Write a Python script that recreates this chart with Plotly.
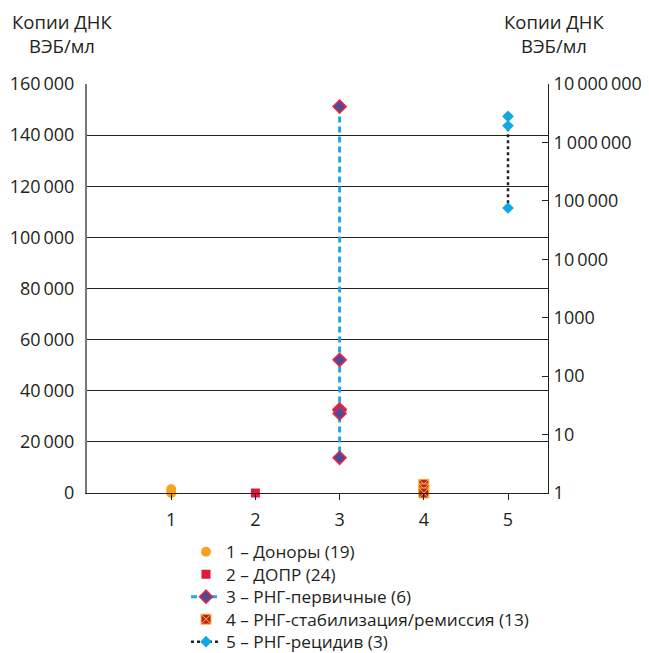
import plotly.graph_objects as go

# ---- data ----
g1_x = [1, 1]
g1_y = [1500, 0]              # left (linear) axis, near zero
g2_x = [2]
g2_y = [0]
g4_x = [4, 4, 4]
g4_y = [3400, 1600, 0]
g3_x = [3, 3, 3, 3, 3, 3]
g3_y = [4100000, 190, 27, 26, 23, 4]   # right (log) axis
g5_x = [5, 5, 5]
g5_y = [2800000, 1930000, 75500]

left_vals = [0, 20000, 40000, 60000, 80000, 100000, 120000, 140000, 160000]
left_text = ["0", "20\u2009000", "40\u2009000", "60\u2009000", "80\u2009000",
             "100\u2009000", "120\u2009000", "140\u2009000", "160\u2009000"]
right_vals = [1, 10, 100, 1000, 10000, 100000, 1000000, 10000000]
right_text = ["1", "10", "100", "1000", "10\u2009000", "100\u2009000",
              "1\u2009000\u2009000", "10\u2009000\u2009000"]
x_ticks = [1, 2, 3, 4, 5]
names = ["1 – Доноры (19)", "2 – ДОПР (24)", "3 – РНГ-первичные (6)",
         "4 – РНГ-стабилизация/ремиссия (13)", "5 – РНГ-рецидив (3)"]
title_lines = ["Копии ДНК", "ВЭБ/мл"]

FONT = "Open Sans"
TXT = "#231f20"
OFF = 8                 # page body margin
W, H = 649 - OFF, 653 - OFF
PL, PR, PT, PB = 87, 548, 84, 493   # plot area in page pixels

legend_ids = ["legend", "legend2", "legend3", "legend4", "legend5"]

fig = go.Figure()
fig.add_trace(go.Scatter(x=g1_x, y=g1_y, mode="markers", name=names[0], legend=legend_ids[0],
                         marker=dict(symbol="circle", size=10, color="#f7a21b"),
                         cliponaxis=False))
fig.add_trace(go.Scatter(x=g2_x, y=g2_y, mode="markers", name=names[1], legend=legend_ids[1],
                         marker=dict(symbol="square", size=9, color="#e2173a"),
                         cliponaxis=False))
fig.add_trace(go.Scatter(x=g3_x, y=g3_y, mode="lines+markers", name=names[2], yaxis="y2",
                         legend=legend_ids[2],
                         line=dict(color="#22a7e2", width=3, dash="6px,4px"),
                         marker=dict(symbol="diamond", size=10, color="#4e4a9a",
                                     line=dict(color="#e5293f", width=1.5)),
                         cliponaxis=False))
fig.add_trace(go.Scatter(x=g4_x, y=g4_y, mode="markers", name=names[3], legend=legend_ids[3],
                         marker=dict(symbol="square-x", size=10, color="#c0202e",
                                     line=dict(color="#f2c12e", width=1)),
                         cliponaxis=False))
fig.add_trace(go.Scatter(x=g5_x, y=g5_y, mode="lines+markers", name=names[4], yaxis="y2",
                         legend=legend_ids[4],
                         line=dict(color="#222222", width=2.5, dash="dot"),
                         marker=dict(symbol="diamond", size=9, color="#12a8e6"),
                         cliponaxis=False))

legend_rows = [552, 574.5, 597, 619.5, 642]
layout_legends = {}
for lid, yc in zip(legend_ids, legend_rows):
    layout_legends[lid] = dict(xref="container", yref="container",
                               x=(186 - OFF) / W, y=1 - (yc - OFF) / H,
                               xanchor="left", yanchor="middle",
                               bgcolor="rgba(0,0,0,0)", font=dict(size=17.2, color=TXT),
                               borderwidth=0)

annotations = []
for cx in (62, 554):
    for line, yc in zip(title_lines, (21, 45)):
        annotations.append(dict(text=line, xref="paper", yref="paper",
                                x=(cx - PL) / (PR - PL), y=(PB - yc) / (PB - PT),
                                xanchor="center", yanchor="middle", showarrow=False,
                                font=dict(size=18.5, color=TXT)))

fig.update_layout(
    template="none",
    width=W, height=H,
    margin=dict(l=PL - OFF, r=W - (PR - OFF), t=PT - OFF, b=H - (PB - OFF), autoexpand=False),
    paper_bgcolor="white", plot_bgcolor="white",
    font=dict(family=FONT, size=18, color=TXT),
    showlegend=True,
    **layout_legends,
    xaxis=dict(range=[0, 5.475], tickvals=x_ticks, ticktext=[str(v) for v in x_ticks],
               showgrid=False, zeroline=False, showline=True, linecolor="#222222",
               linewidth=1, ticks="outside", ticklen=6, tickcolor="#222222",
               ticklabelstandoff=4, automargin=False),
    yaxis=dict(range=[0, 160000], tickvals=left_vals, ticktext=left_text,
               showgrid=True, gridcolor="#222222", gridwidth=1, zeroline=False,
               showline=True, linecolor="#777777", linewidth=2, ticks="",
               ticklabelstandoff=7, automargin=False),
    yaxis2=dict(type="log", range=[0, 7], overlaying="y", side="right",
                tickvals=right_vals, ticktext=right_text, showgrid=False,
                zeroline=False, showline=True, linecolor="#222222", linewidth=1,
                ticks="inside", ticklen=6, tickcolor="#222222",
                ticklabelstandoff=1, automargin=False),
    annotations=annotations,
)

fig.write_html("out.html")
